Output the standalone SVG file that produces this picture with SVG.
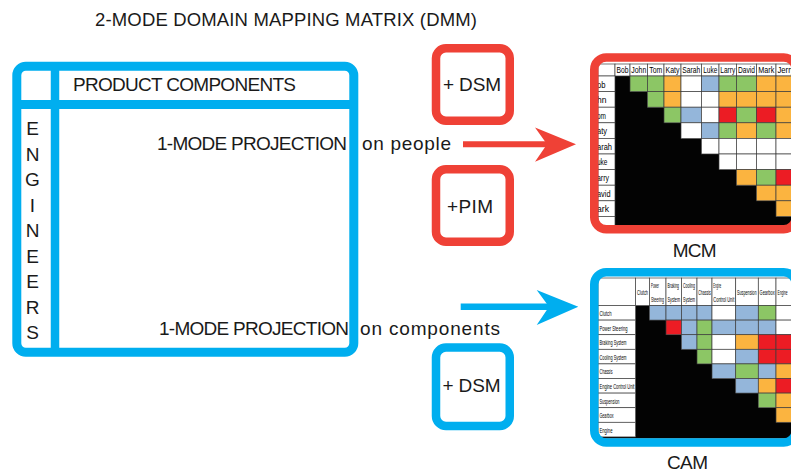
<svg xmlns="http://www.w3.org/2000/svg" width="791" height="471" viewBox="0 0 791 471">
<style>
.t{font-family:"Liberation Sans",Arial,sans-serif;fill:#1a1a1a}
.big{font-size:19px}
.ttl{font-size:18.5px}
.m{font-family:"Liberation Sans",Arial,sans-serif;fill:#000;font-size:8.5px}
.s{font-family:"Liberation Sans",Arial,sans-serif;fill:#000;font-size:6.5px}
.bf{fill:none;stroke:#00AEEF;stroke-width:9}
.rf{fill:none;stroke:#EF4136;stroke-width:8.5}
.bfs{fill:none;stroke:#00AEEF;stroke-width:8.5}
.c{stroke:#3c3c3c;stroke-width:0.7}
.g{fill:#8CC665}.o{fill:#FBB440}.r{fill:#EC1C24}.b{fill:#94B6DA}.w{fill:#fff}
.blk{fill:#030303}
</style>
<defs>
<clipPath id="clipM"><rect x="598" y="61.5" width="200" height="164"/></clipPath>
<clipPath id="clipC"><rect x="598" y="276.4" width="200" height="162"/></clipPath>
</defs>
<rect width="791" height="471" fill="#fff"/>

<g id="title"><text class="t ttl" x="95" y="26" textLength="382">2-MODE DOMAIN MAPPING MATRIX (DMM)</text></g>

<g id="dmm">
<rect class="bf" x="16.8" y="66.2" width="337" height="286" rx="9"/>
<line x1="55" y1="66" x2="55" y2="352" stroke="#00AEEF" stroke-width="8.5"/>
<line x1="17" y1="104.5" x2="354" y2="104.5" stroke="#00AEEF" stroke-width="9"/>
<text class="t big" x="73" y="91" textLength="223">PRODUCT COMPONENTS</text>
<g class="t big" text-anchor="middle">
<text x="32.5" y="135">E</text><text x="32.5" y="160.5">N</text><text x="32.5" y="186">G</text><text x="32.5" y="211.5">I</text><text x="32.5" y="237">N</text><text x="32.5" y="262.5">E</text><text x="32.5" y="288">E</text><text x="32.5" y="313.5">R</text><text x="32.5" y="339">S</text>
</g>
<text class="t big" x="157" y="150" textLength="190">1-MODE PROJECTION</text>
<text class="t big" x="362" y="150" textLength="89">on people</text>
<text class="t big" x="159" y="335" textLength="190">1-MODE PROJECTION</text>
<text class="t big" x="360" y="335" textLength="140">on components</text>
</g>

<g id="dsm-red">
<rect class="rf" x="436" y="48.25" width="73.75" height="72.5" rx="10"/>
<text class="t big" x="443" y="91" textLength="58">+ DSM</text>
</g>
<g id="pim-red">
<rect class="rf" x="436" y="169.25" width="73.75" height="72.5" rx="10"/>
<text class="t big" x="447" y="212.7" textLength="46">+PIM</text>
</g>
<g id="dsm-blue">
<rect class="bfs" x="436" y="347.5" width="73.75" height="78.5" rx="10"/>
<text class="t big" x="442.5" y="391.7" textLength="58">+ DSM</text>
</g>

<g id="connectors">
<line x1="463" y1="144.3" x2="550" y2="144.3" stroke="#EF4136" stroke-width="6"/>
<polygon points="535,127.5 576,144.3 535,161.7 547,144.3" fill="#EF4136"/>
<line x1="460.7" y1="306.7" x2="552" y2="306.7" stroke="#00AEEF" stroke-width="6.5"/>
<polygon points="536.7,290 578.3,306.7 536.7,325 549,306.7" fill="#00AEEF"/>
</g>

<g id="mcm">
<g clip-path="url(#clipM)">
<rect x="598" y="61.5" width="200" height="164" fill="#fff"/>
<polygon class="blk" points="615,76 630,76 630,91.6 647.5,91.6 647.5,107.2 664,107.2 664,122.8 681,122.8 681,138.4 701.5,138.4 701.5,154 719,154 719,169.6 736.5,169.6 736.5,185.2 756.5,185.2 756.5,200.8 776,200.8 776,216.4 796,216.4 796,232 615,232"/>
<g class="c w">
<rect x="598" y="64" width="17" height="12"/><rect x="615" y="64" width="15" height="12"/><rect x="630" y="64" width="17.5" height="12"/><rect x="647.5" y="64" width="16.5" height="12"/><rect x="664" y="64" width="17" height="12"/><rect x="681" y="64" width="20.5" height="12"/><rect x="701.5" y="64" width="17.5" height="12"/><rect x="719" y="64" width="17.5" height="12"/><rect x="736.5" y="64" width="20" height="12"/><rect x="756.5" y="64" width="19.5" height="12"/><rect x="776" y="64" width="20" height="12"/>
<rect x="598" y="76" width="17" height="15.6"/><rect x="598" y="91.6" width="17" height="15.6"/><rect x="598" y="107.2" width="17" height="15.6"/><rect x="598" y="122.8" width="17" height="15.6"/><rect x="598" y="138.4" width="17" height="15.6"/><rect x="598" y="154" width="17" height="15.6"/><rect x="598" y="169.6" width="17" height="15.6"/><rect x="598" y="185.2" width="17" height="15.6"/><rect x="598" y="200.8" width="17" height="15.6"/><rect x="598" y="216.4" width="17" height="15.6"/>
</g>
<g class="c">
<rect class="g" x="630" y="76" width="17.5" height="15.6"/><rect class="g" x="647.5" y="76" width="16.5" height="15.6"/><rect class="o" x="664" y="76" width="17" height="15.6"/><rect class="w" x="681" y="76" width="20.5" height="15.6"/><rect class="b" x="701.5" y="76" width="17.5" height="15.6"/><rect class="g" x="719" y="76" width="17.5" height="15.6"/><rect class="g" x="736.5" y="76" width="20" height="15.6"/><rect class="o" x="756.5" y="76" width="19.5" height="15.6"/><rect class="o" x="776" y="76" width="20" height="15.6"/>
<rect class="g" x="647.5" y="91.6" width="16.5" height="15.6"/><rect class="o" x="664" y="91.6" width="17" height="15.6"/><rect class="w" x="681" y="91.6" width="20.5" height="15.6"/><rect class="w" x="701.5" y="91.6" width="17.5" height="15.6"/><rect class="o" x="719" y="91.6" width="17.5" height="15.6"/><rect class="o" x="736.5" y="91.6" width="20" height="15.6"/><rect class="o" x="756.5" y="91.6" width="19.5" height="15.6"/><rect class="o" x="776" y="91.6" width="20" height="15.6"/>
<rect class="g" x="664" y="107.2" width="17" height="15.6"/><rect class="b" x="681" y="107.2" width="20.5" height="15.6"/><rect class="w" x="701.5" y="107.2" width="17.5" height="15.6"/><rect class="r" x="719" y="107.2" width="17.5" height="15.6"/><rect class="g" x="736.5" y="107.2" width="20" height="15.6"/><rect class="r" x="756.5" y="107.2" width="19.5" height="15.6"/><rect class="o" x="776" y="107.2" width="20" height="15.6"/>
<rect class="w" x="681" y="122.8" width="20.5" height="15.6"/><rect class="b" x="701.5" y="122.8" width="17.5" height="15.6"/><rect class="g" x="719" y="122.8" width="17.5" height="15.6"/><rect class="o" x="736.5" y="122.8" width="20" height="15.6"/><rect class="g" x="756.5" y="122.8" width="19.5" height="15.6"/><rect class="o" x="776" y="122.8" width="20" height="15.6"/>
<rect class="w" x="701.5" y="138.4" width="17.5" height="15.6"/><rect class="w" x="719" y="138.4" width="17.5" height="15.6"/><rect class="w" x="736.5" y="138.4" width="20" height="15.6"/><rect class="w" x="756.5" y="138.4" width="19.5" height="15.6"/><rect class="w" x="776" y="138.4" width="20" height="15.6"/>
<rect class="w" x="719" y="154" width="17.5" height="15.6"/><rect class="w" x="736.5" y="154" width="20" height="15.6"/><rect class="w" x="756.5" y="154" width="19.5" height="15.6"/><rect class="w" x="776" y="154" width="20" height="15.6"/>
<rect class="o" x="736.5" y="169.6" width="20" height="15.6"/><rect class="g" x="756.5" y="169.6" width="19.5" height="15.6"/><rect class="r" x="776" y="169.6" width="20" height="15.6"/>
<rect class="o" x="756.5" y="185.2" width="19.5" height="15.6"/><rect class="o" x="776" y="185.2" width="20" height="15.6"/>
<rect class="o" x="776" y="200.8" width="20" height="15.6"/>
</g>
<g class="m" text-anchor="middle">
<text x="622.5" y="73" textLength="12" lengthAdjust="spacingAndGlyphs">Bob</text>
<text x="638.75" y="73" textLength="15" lengthAdjust="spacingAndGlyphs">John</text>
<text x="655.75" y="73" textLength="13" lengthAdjust="spacingAndGlyphs">Tom</text>
<text x="672.5" y="73" textLength="14" lengthAdjust="spacingAndGlyphs">Katy</text>
<text x="691.25" y="73" textLength="18" lengthAdjust="spacingAndGlyphs">Sarah</text>
<text x="710.25" y="73" textLength="14" lengthAdjust="spacingAndGlyphs">Luke</text>
<text x="727.75" y="73" textLength="15" lengthAdjust="spacingAndGlyphs">Larry</text>
<text x="746.5" y="73" textLength="17" lengthAdjust="spacingAndGlyphs">David</text>
<text x="766.25" y="73" textLength="16" lengthAdjust="spacingAndGlyphs">Mark</text>
<text x="777.5" y="73" text-anchor="start" textLength="17" lengthAdjust="spacingAndGlyphs">Jerry</text>
</g>
<g class="m">
<text x="597" y="87.5" textLength="8.5" lengthAdjust="spacingAndGlyphs">ob</text>
<text x="597" y="103" textLength="9.5" lengthAdjust="spacingAndGlyphs">hn</text>
<text x="597" y="118.6" textLength="9" lengthAdjust="spacingAndGlyphs">om</text>
<text x="597" y="134.2" textLength="10" lengthAdjust="spacingAndGlyphs">aty</text>
<text x="597" y="149.8" textLength="15" lengthAdjust="spacingAndGlyphs">arah</text>
<text x="597" y="165.4" textLength="10.5" lengthAdjust="spacingAndGlyphs">uke</text>
<text x="597" y="181" textLength="12" lengthAdjust="spacingAndGlyphs">arry</text>
<text x="597" y="196.6" textLength="13.5" lengthAdjust="spacingAndGlyphs">avid</text>
<text x="597" y="212.2" textLength="12" lengthAdjust="spacingAndGlyphs">ark</text>
</g>
</g>
<rect class="rf" x="594.25" y="57.6" width="201.5" height="171.65" rx="12"/>
<text class="t big" x="672.7" y="256.7" textLength="44">MCM</text>
</g>

<g id="cam">
<g clip-path="url(#clipC)">
<rect x="598" y="276.4" width="200" height="162" fill="#fff"/>
<polygon class="blk" points="635.5,305.5 649.5,305.5 649.5,320.1 666,320.1 666,334.7 681.5,334.7 681.5,349.3 697,349.3 697,363.9 712,363.9 712,378.5 735.7,378.5 735.7,393.1 758.3,393.1 758.3,407.7 776,407.7 776,422.3 796,422.3 796,445 598,445 598,436.9 635.5,436.9"/>
<g class="c w">
<rect x="598" y="278" width="37.5" height="27.5"/><rect x="635.5" y="278" width="14" height="27.5"/><rect x="649.5" y="278" width="16.5" height="27.5"/><rect x="666" y="278" width="15.5" height="27.5"/><rect x="681.5" y="278" width="15.5" height="27.5"/><rect x="697" y="278" width="15" height="27.5"/><rect x="712" y="278" width="23.7" height="27.5"/><rect x="735.7" y="278" width="22.6" height="27.5"/><rect x="758.3" y="278" width="17.7" height="27.5"/><rect x="776" y="278" width="20" height="27.5"/>
<rect x="598" y="305.5" width="37.5" height="14.6"/><rect x="598" y="320.1" width="37.5" height="14.6"/><rect x="598" y="334.7" width="37.5" height="14.6"/><rect x="598" y="349.3" width="37.5" height="14.6"/><rect x="598" y="363.9" width="37.5" height="14.6"/><rect x="598" y="378.5" width="37.5" height="14.6"/><rect x="598" y="393.1" width="37.5" height="14.6"/><rect x="598" y="407.7" width="37.5" height="14.6"/><rect x="598" y="422.3" width="37.5" height="14.6"/>
</g>
<g class="c">
<rect class="b" x="649.5" y="305.5" width="16.5" height="14.6"/><rect class="b" x="666" y="305.5" width="15.5" height="14.6"/><rect class="b" x="681.5" y="305.5" width="15.5" height="14.6"/><rect class="b" x="697" y="305.5" width="15" height="14.6"/><rect class="w" x="712" y="305.5" width="23.7" height="14.6"/><rect class="b" x="735.7" y="305.5" width="22.6" height="14.6"/><rect class="g" x="758.3" y="305.5" width="17.7" height="14.6"/><rect class="w" x="776" y="305.5" width="20" height="14.6"/>
<rect class="r" x="666" y="320.1" width="15.5" height="14.6"/><rect class="b" x="681.5" y="320.1" width="15.5" height="14.6"/><rect class="g" x="697" y="320.1" width="15" height="14.6"/><rect class="b" x="712" y="320.1" width="23.7" height="14.6"/><rect class="b" x="735.7" y="320.1" width="22.6" height="14.6"/><rect class="b" x="758.3" y="320.1" width="17.7" height="14.6"/><rect class="w" x="776" y="320.1" width="20" height="14.6"/>
<rect class="b" x="681.5" y="334.7" width="15.5" height="14.6"/><rect class="g" x="697" y="334.7" width="15" height="14.6"/><rect class="w" x="712" y="334.7" width="23.7" height="14.6"/><rect class="o" x="735.7" y="334.7" width="22.6" height="14.6"/><rect class="r" x="758.3" y="334.7" width="17.7" height="14.6"/><rect class="r" x="776" y="334.7" width="20" height="14.6"/>
<rect class="g" x="697" y="349.3" width="15" height="14.6"/><rect class="w" x="712" y="349.3" width="23.7" height="14.6"/><rect class="b" x="735.7" y="349.3" width="22.6" height="14.6"/><rect class="r" x="758.3" y="349.3" width="17.7" height="14.6"/><rect class="r" x="776" y="349.3" width="20" height="14.6"/>
<rect class="b" x="712" y="363.9" width="23.7" height="14.6"/><rect class="g" x="735.7" y="363.9" width="22.6" height="14.6"/><rect class="b" x="758.3" y="363.9" width="17.7" height="14.6"/><rect class="o" x="776" y="363.9" width="20" height="14.6"/>
<rect class="b" x="735.7" y="378.5" width="22.6" height="14.6"/><rect class="o" x="758.3" y="378.5" width="17.7" height="14.6"/><rect class="r" x="776" y="378.5" width="20" height="14.6"/>
<rect class="g" x="758.3" y="393.1" width="17.7" height="14.6"/><rect class="o" x="776" y="393.1" width="20" height="14.6"/>
<rect class="o" x="776" y="407.7" width="20" height="14.6"/>
</g>
<g class="s">
<text x="637" y="295" textLength="11" lengthAdjust="spacingAndGlyphs">Clutch</text>
<text x="651" y="288" textLength="8" lengthAdjust="spacingAndGlyphs">Power</text>
<text x="651" y="302" textLength="13" lengthAdjust="spacingAndGlyphs">Steering</text>
<text x="667.5" y="288" textLength="11.5" lengthAdjust="spacingAndGlyphs">Braking</text>
<text x="667.5" y="302" textLength="12.5" lengthAdjust="spacingAndGlyphs">System</text>
<text x="683" y="288" textLength="12" lengthAdjust="spacingAndGlyphs">Cooling</text>
<text x="683" y="302" textLength="12" lengthAdjust="spacingAndGlyphs">System</text>
<text x="698.3" y="295" textLength="12.5" lengthAdjust="spacingAndGlyphs">Chassis</text>
<text x="713.3" y="288" textLength="8" lengthAdjust="spacingAndGlyphs">Engine</text>
<text x="713.3" y="302" textLength="21" lengthAdjust="spacingAndGlyphs">Control Unit</text>
<text x="737" y="295" textLength="19.5" lengthAdjust="spacingAndGlyphs">Suspension</text>
<text x="759.6" y="295" textLength="15" lengthAdjust="spacingAndGlyphs">Gearbox</text>
<text x="777.6" y="295" textLength="10" lengthAdjust="spacingAndGlyphs">Engine</text>
<text x="599.5" y="316" textLength="12" lengthAdjust="spacingAndGlyphs">Clutch</text>
<text x="599.5" y="330.6" textLength="28" lengthAdjust="spacingAndGlyphs">Power Steering</text>
<text x="599.5" y="345.2" textLength="27" lengthAdjust="spacingAndGlyphs">Braking System</text>
<text x="599.5" y="359.8" textLength="27" lengthAdjust="spacingAndGlyphs">Cooling System</text>
<text x="599.5" y="374.4" textLength="13" lengthAdjust="spacingAndGlyphs">Chassis</text>
<text x="599.5" y="389" textLength="35" lengthAdjust="spacingAndGlyphs">Engine Control Unit</text>
<text x="599.5" y="403.6" textLength="20" lengthAdjust="spacingAndGlyphs">Suspension</text>
<text x="599.5" y="418.2" textLength="14" lengthAdjust="spacingAndGlyphs">Gearbox</text>
<text x="599.5" y="432.8" textLength="13" lengthAdjust="spacingAndGlyphs">Engine</text>
</g>
</g>
<rect class="bfs" x="594.25" y="272.2" width="201.5" height="170.3" rx="12"/>
<text class="t big" x="667" y="469.3" textLength="41">CAM</text>
</g>
</svg>
